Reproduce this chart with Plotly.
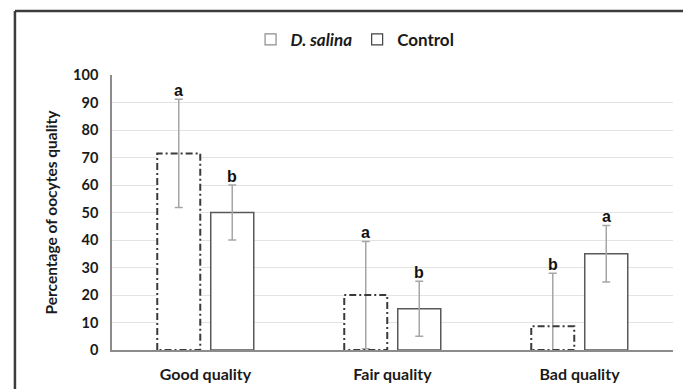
import plotly.graph_objects as go

categories = ["Good quality", "Fair quality", "Bad quality"]
dsalina_values = [71.5, 20.0, 8.6]
dsalina_errors = [19.7, 19.5, 19.3]
control_values = [50.0, 15.0, 35.0]
control_errors = [10.0, 10.0, 10.3]
dsalina_letters = ["a", "a", "b"]
control_letters = ["b", "b", "a"]
y_ticks = list(range(0, 101, 10))

idx = list(range(len(categories)))
bar_w = 0.23
off_ds = -0.143 - bar_w / 2
off_ct = 0.143 - bar_w / 2

FONT = "Lato, Open Sans, sans-serif"
TXT = "#1a1a1a"

fig = go.Figure()

err_style = dict(color="#a6a6a6", thickness=1.5, width=4)

# D. salina bars (fill only; dash-dot outline drawn separately)
fig.add_trace(go.Bar(
    x=idx, y=dsalina_values, width=bar_w, offset=off_ds,
    marker=dict(color="white", line=dict(width=0, color="rgba(0,0,0,0)")),
    error_y=dict(type="data", array=dsalina_errors, visible=True, **err_style),
    showlegend=False, hoverinfo="skip",
))
# Control bars
fig.add_trace(go.Bar(
    x=idx, y=control_values, width=bar_w, offset=off_ct,
    marker=dict(color="white", line=dict(width=1.5, color="#595959")),
    error_y=dict(type="data", array=control_errors, visible=True, **err_style),
    showlegend=False, hoverinfo="skip",
))

# dash-dot outline for D. salina bars, from the data
ox, oy = [], []
for i, v in zip(idx, dsalina_values):
    x0 = i + off_ds
    x1 = x0 + bar_w
    ox += [x0, x0, x1, x1, x0, None]
    oy += [0, v, v, 0, 0, None]
fig.add_trace(go.Scatter(
    x=ox, y=oy, mode="lines",
    line=dict(color="#3a3a3a", width=2, dash="7px,3px,2px,3px"),
    showlegend=False, hoverinfo="skip",
))

# legend entries
fig.add_trace(go.Scatter(
    x=[None], y=[None], mode="markers", name="<b><i>D. salina</i></b>",
    marker=dict(symbol="square-open", size=11, color="#8c8c8c", line=dict(width=1.2)),
))
fig.add_trace(go.Scatter(
    x=[None], y=[None], mode="markers", name="<b>Control</b>",
    marker=dict(symbol="square-open", size=11, color="#404040", line=dict(width=1.2)),
))

annotations = []
for i in idx:
    annotations.append(dict(
        x=i - 0.143, y=dsalina_values[i] + dsalina_errors[i], text="<b>%s</b>" % dsalina_letters[i],
        showarrow=False, yanchor="bottom", yshift=-2,
        font=dict(family="Liberation Sans, Arial", size=16, color="#111"),
    ))
    annotations.append(dict(
        x=i + 0.143, y=control_values[i] + control_errors[i], text="<b>%s</b>" % control_letters[i],
        showarrow=False, yanchor="bottom", yshift=-2,
        font=dict(family="Liberation Sans, Arial", size=16, color="#111"),
    ))

fig.update_layout(
    width=683, height=389,
    margin=dict(l=112, r=10, t=75, b=39, autoexpand=False),
    paper_bgcolor="white", plot_bgcolor="white",
    font=dict(family=FONT, color=TXT),
    showlegend=True,
    legend=dict(
        orientation="h", x=0.247, xanchor="left", y=1.128, yanchor="middle",
        font=dict(size=17, family=FONT, color=TXT),
        tracegroupgap=0,
    ),
    annotations=annotations,
    shapes=[
        dict(type="line", xref="paper", yref="paper", x0=-0.173, x1=-0.173, y0=-0.3, y1=1.233,
             line=dict(color="#3c3c3c", width=2.5)),
        dict(type="line", xref="paper", yref="paper", x0=-0.173, x1=1.1, y0=1.233, y1=1.233,
             line=dict(color="#3c3c3c", width=2.5)),
    ],
    xaxis=dict(
        range=[-0.5, 2.5], tickvals=idx, ticktext=["<b>%s</b>" % c for c in categories],
        showline=True, linecolor="#8c8c8c", linewidth=1.5, showgrid=False, ticks="",
        tickfont=dict(size=16, family=FONT, color=TXT), ticklabelstandoff=9,
        zeroline=False, fixedrange=True, automargin=False,
    ),
    yaxis=dict(
        range=[0, 100], tickvals=y_ticks, ticktext=["<b>%d</b>" % t for t in y_ticks],
        showline=True, linecolor="#8c8c8c", linewidth=1.5,
        showgrid=True, gridcolor="#e3e3e3", gridwidth=1, zeroline=False, ticks="",
        tickfont=dict(size=14.5, family=FONT, color=TXT), ticklabelstandoff=9,
        title=dict(text="<b>Percentage of oocytes quality</b>", standoff=12,
                   font=dict(size=15.5, family=FONT, color=TXT)),
        fixedrange=True, automargin=False,
    ),
)

fig.write_html("out.html", config={"displayModeBar": False},
               post_script="document.body.style.margin='0px';")
